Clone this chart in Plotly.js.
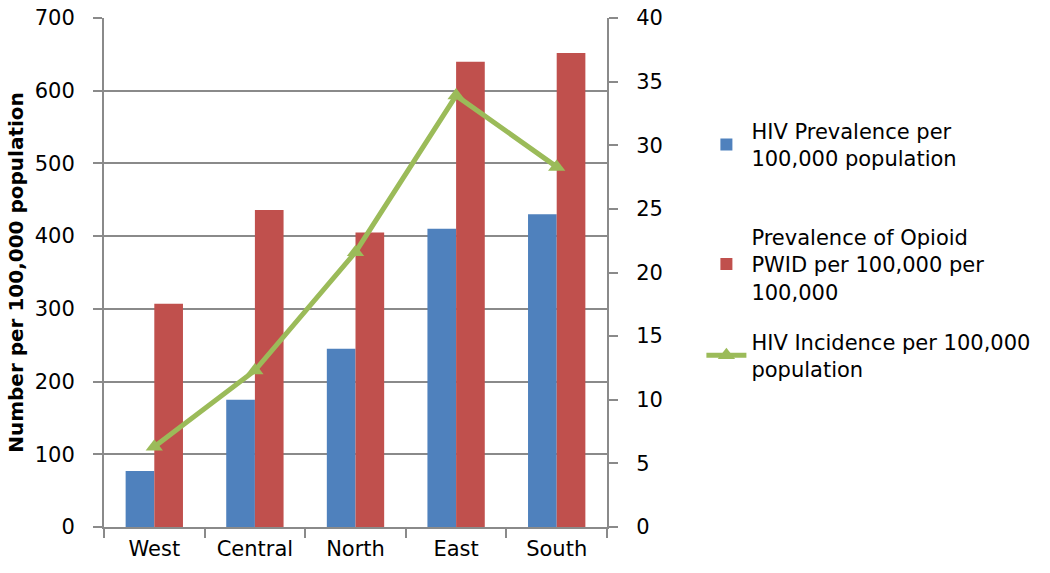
<!DOCTYPE html>
<html>
<head>
<meta charset="utf-8">
<script src="https://cdn.plot.ly/plotly-3.0.1.min.js"></script>
<style>
  html, body { margin: 0; padding: 0; background: #fff; }
  #chart { width: 1050px; height: 573px; }
</style>
</head>
<body>
<div id="chart"></div>
<script>
const regions = ['West', 'Central', 'North', 'East', 'South'];
const hivPrevalence = [77, 175, 245, 410, 430];
const opioidPwid = [307, 436, 405, 640, 652];
const hivIncidence = [6.3, 12.3, 21.6, 33.9, 28.3];

const fontFamily = '"DejaVu Sans", sans-serif';
const axisGray = '#8a8a8a';

const traces = [
    {
        x: regions,
        y: hivPrevalence,
        type: 'bar',
        name: 'HIV Prevalence per<br>100,000 population',
        marker: { color: '#4F81BD' },
        legend: 'legend'
    },
    {
        x: regions,
        y: opioidPwid,
        type: 'bar',
        name: 'Prevalence of Opioid<br>PWID per 100,000 per<br>100,000',
        marker: { color: '#C0504D' },
        legend: 'legend2'
    },
    {
        x: regions,
        y: hivIncidence,
        type: 'scatter',
        mode: 'lines+markers',
        yaxis: 'y2',
        name: 'HIV Incidence per 100,000<br>population',
        line: { color: '#9BBB59', width: 5 },
        marker: { symbol: 'triangle-up', size: 15, color: '#9BBB59' },
        legend: 'legend3'
    }
];

function legendAt(yTop) {
    // one legend box per entry so each can sit where the reference puts it
    return {
        xref: 'container',
        yref: 'container',
        x: 0.668,
        y: yTop,
        xanchor: 'left',
        yanchor: 'top',
        font: { size: 21 },
        itemwidth: 40,
        bgcolor: 'rgba(0,0,0,0)'
    };
}

const commonAxis = {
    ticks: 'outside',
    ticklen: 9,
    tickcolor: axisGray,
    tickwidth: 2,
    showline: true,
    linecolor: axisGray,
    linewidth: 2,
    zeroline: false,
    tickfont: { size: 21 }
};

const layout = {
    width: 1050,
    height: 573,
    margin: { l: 104, r: 443, t: 18, b: 46, pad: 0 },
    paper_bgcolor: '#fff',
    plot_bgcolor: '#fff',
    font: { family: fontFamily, size: 21, color: '#000' },
    barmode: 'group',
    bargap: 0.43,
    bargroupgap: 0,
    showlegend: true,
    xaxis: {
        ...commonAxis,
        type: 'category',
        tickson: 'boundaries',
        showgrid: false,
        ticklabelstandoff: 2
    },
    yaxis: {
        ...commonAxis,
        range: [0, 700],
        dtick: 100,
        showgrid: true,
        gridcolor: axisGray,
        gridwidth: 2,
        ticklabelstandoff: 14,
        title: {
            text: '<b>Number per 100,000 population</b>',
            font: { size: 20 },
            standoff: 6
        }
    },
    yaxis2: {
        ...commonAxis,
        range: [0, 40],
        dtick: 5,
        overlaying: 'y',
        side: 'right',
        showgrid: false,
        ticklabelstandoff: 14
    },
    legend: legendAt(0.807),
    legend2: legendAt(0.622),
    legend3: legendAt(0.439)
};

Plotly.newPlot('chart', traces, layout, { displayModeBar: false, responsive: false });
</script>
</body>
</html>
